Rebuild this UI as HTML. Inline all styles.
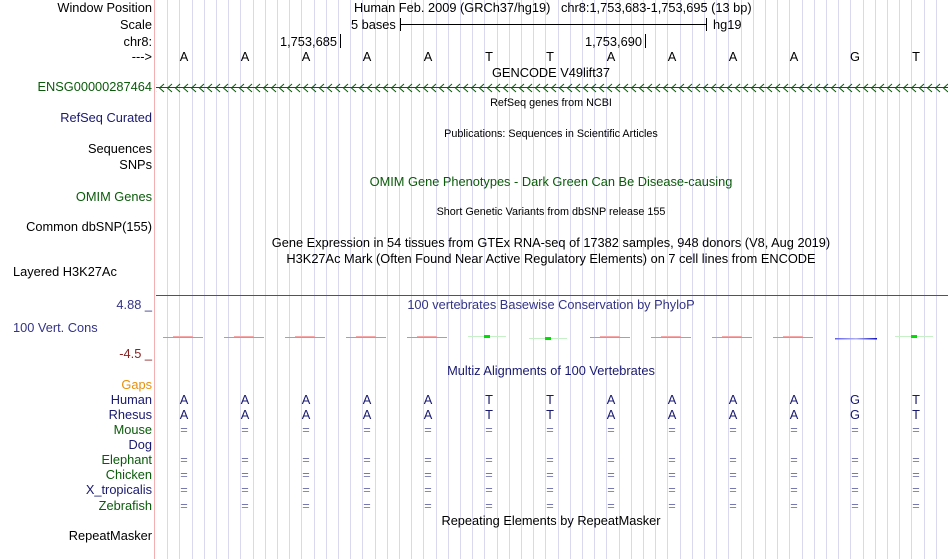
<!DOCTYPE html>
<html><head><meta charset="utf-8"><style>
body{margin:0;background:#fff;width:950px;height:559px;overflow:hidden;position:relative;font-family:"Liberation Sans",sans-serif;}
.t{position:absolute;font-size:12.8px;line-height:14px;white-space:nowrap;color:#000}
.r{text-align:right;width:152px;left:0}
.s{font-size:10.8px;line-height:12px}
.c{transform:translateX(-50%)}
.nv{color:#191970}.gr{color:#0a5a0a}
</style></head><body>
<svg width="950" height="559" style="position:absolute;left:0;top:0">
<defs>
<pattern id="arr" x="158" y="82" width="8" height="12" patternUnits="userSpaceOnUse">
<path d="M6 2 L1.5 6 L6 10" stroke="#0a5a0a" stroke-width="1" fill="none"/>
</pattern>
<linearGradient id="bl" x1="0" x2="1"><stop offset="0" stop-color="#6060f0"/><stop offset="0.5" stop-color="#b0b0f4"/><stop offset="1" stop-color="#1010c0"/></linearGradient>
</defs>
<g id="grid" stroke="#d8d8f0" stroke-width="1"></g>
<line x1="154.5" y1="0" x2="154.5" y2="559" stroke="#f4b0b0"/>
<line x1="400.5" y1="24.5" x2="706" y2="24.5" stroke="#000"/>
<line x1="400.5" y1="18" x2="400.5" y2="31" stroke="#000"/>
<line x1="706.5" y1="18" x2="706.5" y2="31" stroke="#000"/>
<line x1="340.5" y1="34" x2="340.5" y2="48" stroke="#000"/>
<line x1="645.5" y1="34" x2="645.5" y2="48" stroke="#000"/>
<line x1="156" y1="87.5" x2="948" y2="87.5" stroke="#0a5a0a"/>
<rect x="156" y="82" width="792" height="12" fill="url(#arr)"/>
<line x1="156" y1="295.5" x2="948" y2="295.5" stroke="#5a4a78" stroke-width="1"/>
<g id="cons"></g>
</svg>
<div class="t r" style="top:1px">Window Position</div>
<div class="t r" style="top:18px">Scale</div>
<div class="t r" style="top:35px">chr8:</div>
<div class="t r" style="top:50px">---&gt;</div>
<div class="t r gr" style="top:80px">ENSG00000287464</div>
<div class="t r nv" style="top:111px">RefSeq Curated</div>
<div class="t r" style="top:142px">Sequences</div>
<div class="t r" style="top:158px">SNPs</div>
<div class="t r gr" style="top:190px">OMIM Genes</div>
<div class="t r" style="top:220px">Common dbSNP(155)</div>
<div class="t" style="top:265px;left:13px">Layered H3K27Ac</div>
<div class="t r" style="top:298px;color:#333388">4.88 _</div>
<div class="t" style="top:321px;left:13px;color:#333388">100 Vert. Cons</div>
<div class="t r" style="top:347px;color:#8b2020">-4.5 _</div>
<div class="t r" style="top:378px;color:#e8900a">Gaps</div>
<div class="t r nv" style="top:393px">Human</div>
<div class="t r nv" style="top:408px">Rhesus</div>
<div class="t r gr" style="top:423px">Mouse</div>
<div class="t r nv" style="top:438px">Dog</div>
<div class="t r gr" style="top:453px">Elephant</div>
<div class="t r gr" style="top:468px">Chicken</div>
<div class="t r nv" style="top:483px">X_tropicalis</div>
<div class="t r gr" style="top:499px">Zebrafish</div>
<div class="t r" style="top:529px">RepeatMasker</div>

<div class="t" style="top:1px;left:354px">Human Feb. 2009 (GRCh37/hg19) &nbsp; chr8:1,753,683-1,753,695 (13 bp)</div>
<div class="t" style="top:18px;left:351px">5 bases</div>
<div class="t" style="top:18px;left:713px">hg19</div>
<div class="t" style="top:35px;left:280px">1,753,685</div>
<div class="t" style="top:35px;left:585px">1,753,690</div>
<div class="t c" style="top:66px;left:551px">GENCODE V49lift37</div>
<div class="t s c" style="top:97px;left:551px">RefSeq genes from NCBI</div>
<div class="t s c" style="top:128px;left:551px">Publications: Sequences in Scientific Articles</div>
<div class="t c gr" style="top:175px;left:551px">OMIM Gene Phenotypes - Dark Green Can Be Disease-causing</div>
<div class="t s c" style="top:206px;left:551px">Short Genetic Variants from dbSNP release 155</div>
<div class="t c" style="top:236px;left:551px">Gene Expression in 54 tissues from GTEx RNA-seq of 17382 samples, 948 donors (V8, Aug 2019)</div>
<div class="t c" style="top:252px;left:551px">H3K27Ac Mark (Often Found Near Active Regulatory Elements) on 7 cell lines from ENCODE</div>
<div class="t c" style="top:298px;left:551px;color:#333388">100 vertebrates Basewise Conservation by PhyloP</div>
<div class="t c nv" style="top:364px;left:551px">Multiz Alignments of 100 Vertebrates</div>
<div class="t c" style="top:514px;left:551px">Repeating Elements by RepeatMasker</div>
<div id="bases"></div>
<script>
var g=document.getElementById('grid'),s='';
for(var k=1;k<66;k++){var x=Math.round(155+12.2*k)+0.5;if(x>948)break;s+='<line x1="'+x+'" y1="0" x2="'+x+'" y2="559"/>';}
g.innerHTML=s;
var seq='AAAAATTAAAAGT',h='';
var rows=[[50,seq,'#000'],[393,seq,'#191970'],[408,seq,'#191970']];
var eq=[423,453,468,483,499];
for(var i=0;i<13;i++){var cx=184+61*i;
rows.forEach(function(r){h+='<div class="t c" style="top:'+r[0]+'px;left:'+cx+'px;color:'+r[2]+'">'+r[1][i]+'</div>';});
eq.forEach(function(y){h+='<div class="t c" style="top:'+y+'px;left:'+cx+'px;color:#7878b0">=</div>';});}
document.getElementById('bases').innerHTML=h;
var c='';
for(var i=0;i<13;i++){var x0=163+61*i;
if(i==5||i==6||i==12){var y=(i==6)?338:336;c+='<rect x="'+x0+'" y="'+y+'" width="38" height="1" fill="#c8f0c8"/><rect x="'+(x0+16)+'" y="'+(y-1)+'" width="6" height="3" fill="#00e000"/>';}
else if(i==11){c+='<rect x="'+(x0+1)+'" y="338" width="42" height="1.5" fill="url(#bl)"/>';}
else{c+='<rect x="'+x0+'" y="337" width="40" height="1" fill="#f48080"/><rect x="'+(x0+10)+'" y="336" width="20" height="1" fill="#f8a8a8"/>';}}
document.getElementById('cons').innerHTML=c;
</script>
</body></html>
